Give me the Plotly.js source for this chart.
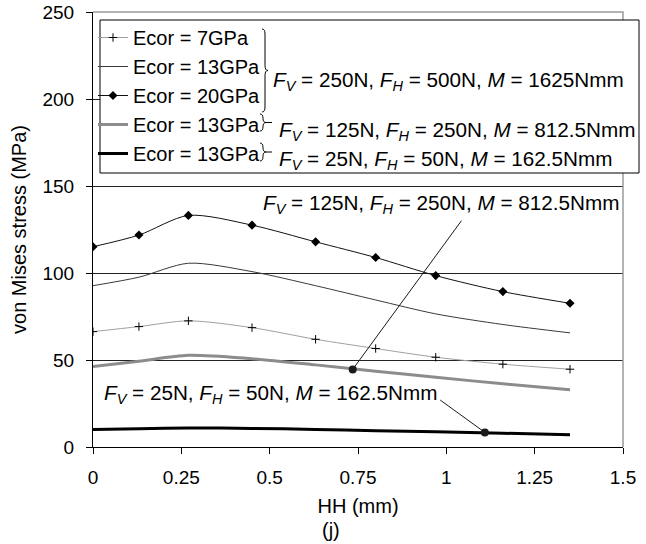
<!DOCTYPE html>
<html>
<head>
<meta charset="utf-8">
<script src="https://cdn.plot.ly/plotly-3.0.1.min.js"></script>
<style>
html,body{margin:0;padding:0;background:#fff;}
#chart{width:646px;height:544px;}
</style>
</head>
<body>
<div id="chart"></div>
<script>
// ---- data ----
const hh = [0, 0.13, 0.27, 0.45, 0.63, 0.80, 0.97, 1.16, 1.35];
const stress7 = [66.3, 69.2, 72.5, 68.6, 61.9, 56.6, 51.6, 47.6, 44.7];
const stress13 = [92.7, 97.6, 105.6, 100.8, 92.7, 84.5, 76.5, 70.4, 65.6];
const stress20 = [115.1, 121.8, 133.1, 127.5, 117.9, 108.9, 98.5, 89.3, 82.6];
const stress13Mid = [46.3, 49.3, 52.7, 50.7, 47.2, 43.6, 40.1, 36.3, 32.9];
const stress13Low = [10.0, 10.5, 10.9, 10.7, 10.1, 9.3, 8.7, 7.9, 7.0];
const seriesNames = ['Ecor = 7GPa', 'Ecor = 13GPa', 'Ecor = 20GPa', 'Ecor = 13GPa', 'Ecor = 13GPa'];
const loadTexts = [
  '<i>F</i><sub><i>V</i></sub> = 250N, <i>F</i><sub><i>H</i></sub> = 500N, <i>M</i> = 1625Nmm',
  '<i>F</i><sub><i>V</i></sub> = 125N, <i>F</i><sub><i>H</i></sub> = 250N, <i>M</i> = 812.5Nmm',
  '<i>F</i><sub><i>V</i></sub> = 25N, <i>F</i><sub><i>H</i></sub> = 50N, <i>M</i> = 162.5Nmm'
];
// callout points (on curves) and leader-line starts
const calloutX = [0.735, 1.109];
const calloutY = [44.6, 8.4];
const calloutAX = [1.048, 0.977];
const calloutAY = [131.5, 27.8];
const xTickVals = [0, 0.25, 0.5, 0.75, 1, 1.25, 1.5];
const xTickText = ['0', '0.25', '0.5', '0.75', '1', '1.25', '1.5'];
const yTickVals = [0, 50, 100, 150, 200, 250];
const yTickText = ['0', '50', '100', '150', '200', '250'];
const xTitle = 'HH (mm)';
const yTitle = 'von Mises stress (MPa)';
const panelLabel = '(j)';

// ---- geometry helpers (pixel -> paper) ----
const L = 93, T = 12, W = 530, H = 435;
const px = v => (v - L) / W;
const py = v => (T + H - v) / H;
function brace(x0, yT, yB, w, tipExtra) {
  const ym = (yT + yB) / 2, xm = x0 + w / 2, xt = x0 + w + tipExtra, r = Math.min(5, (yB - yT) / 4);
  const P = (a, b) => px(a).toFixed(5) + ',' + py(b).toFixed(5);
  return 'M' + P(x0, yT) + ' Q' + P(xm, yT) + ' ' + P(xm, yT + r) +
    ' L' + P(xm, ym - r) + ' Q' + P(xm, ym) + ' ' + P(x0 + w, ym) +
    ' L' + P(xt, ym) + ' M' + P(x0 + w, ym) +
    ' Q' + P(xm, ym) + ' ' + P(xm, ym + r) +
    ' L' + P(xm, yB - r) + ' Q' + P(xm, yB) + ' ' + P(x0, yB);
}

const FONT = 'Liberation Sans, Arial, sans-serif';
const TF = 20.7;

const traces = [
  {x: hh, y: stress7, name: seriesNames[0], mode: 'lines+markers',
   line: {color: '#a0a0a0', width: 1, shape: 'spline', smoothing: 0.8},
   marker: {symbol: 'cross-thin', size: 6, color: '#000', line: {width: 1, color: '#000'}}},
  {x: hh, y: stress13, name: seriesNames[1], mode: 'lines',
   line: {color: '#3a3a3a', width: 1, shape: 'spline', smoothing: 0.8}},
  {x: hh, y: stress20, name: seriesNames[2], mode: 'lines+markers',
   line: {color: '#111', width: 1, shape: 'spline', smoothing: 0.8},
   marker: {symbol: 'diamond', size: 7, color: '#000'}},
  {x: hh, y: stress13Mid, name: seriesNames[3], mode: 'lines',
   line: {color: '#8c8c8c', width: 3, shape: 'spline', smoothing: 0.8}},
  {x: hh, y: stress13Low, name: seriesNames[4], mode: 'lines',
   line: {color: '#000', width: 3, shape: 'spline', smoothing: 0.8}}
];

const shapes = [
  // plot frame top/right (gray)
  {type: 'path', xref: 'paper', yref: 'paper', path: 'M0,1 L1,1 L1,0', line: {color: '#9a9a9a', width: 1.5}, layer: 'above'},
  // legend box
  {type: 'rect', xref: 'paper', yref: 'paper', x0: px(100), x1: px(639), y0: py(173), y1: py(20),
   fillcolor: '#fff', line: {color: '#000', width: 1}, layer: 'above'},
  {type: 'path', xref: 'paper', yref: 'paper', path: brace(262, 29, 112, 6, 0), line: {color: '#000', width: 1}, layer: 'above'},
  {type: 'path', xref: 'paper', yref: 'paper', path: brace(260, 114, 131, 6, 6), line: {color: '#000', width: 1}, layer: 'above'},
  {type: 'path', xref: 'paper', yref: 'paper', path: brace(260, 143, 161, 6, 6), line: {color: '#000', width: 1}, layer: 'above'}
];

const annotations = [
  {xref: 'paper', yref: 'paper', x: px(271), y: py(81), xanchor: 'left', yanchor: 'middle', text: loadTexts[0], showarrow: false, font: {size: TF, color: '#000', family: FONT}},
  {xref: 'paper', yref: 'paper', x: px(277), y: py(131), xanchor: 'left', yanchor: 'middle', text: loadTexts[1], showarrow: false, font: {size: TF, color: '#000', family: FONT}},
  {xref: 'paper', yref: 'paper', x: px(277), y: py(160), xanchor: 'left', yanchor: 'middle', text: loadTexts[2], showarrow: false, font: {size: TF, color: '#000', family: FONT}},
  {xref: 'paper', yref: 'paper', x: px(261), y: py(204), xanchor: 'left', yanchor: 'middle', text: loadTexts[1], showarrow: false, font: {size: TF, color: '#000', family: FONT}},
  {xref: 'paper', yref: 'paper', x: px(102), y: py(394), xanchor: 'left', yanchor: 'middle', text: loadTexts[2], showarrow: false, font: {size: TF, color: '#000', family: FONT}},
  {xref: 'paper', yref: 'paper', x: px(331), y: py(530), xanchor: 'center', yanchor: 'middle', text: panelLabel, showarrow: false, font: {size: 20, color: '#000', family: FONT}}
];
for (let i = 0; i < calloutX.length; i++) {
  annotations.push({x: calloutX[i], y: calloutY[i], xref: 'x', yref: 'y', ax: calloutAX[i], ay: calloutAY[i], axref: 'x', ayref: 'y',
    text: ' ', showarrow: true, arrowhead: 6, arrowsize: 2, arrowwidth: 1, arrowcolor: '#1a1a1a', standoff: 0, font: {size: 2}});
}

const layout = {
  width: 646, height: 544,
  margin: {l: L, r: 646 - L - W, t: T, b: 544 - T - H},
  paper_bgcolor: '#fff', plot_bgcolor: '#fff',
  font: {family: FONT, size: 19, color: '#000'},
  showlegend: true,
  legend: {x: 0, y: py(18), xanchor: 'left', yanchor: 'top', bgcolor: 'rgba(0,0,0,0)', borderwidth: 0,
           font: {size: 20, family: FONT, color: '#000'}, itemwidth: 30, traceorder: 'normal'},
  xaxis: {range: [0, 1.5], tickmode: 'array', tickvals: xTickVals, ticktext: xTickText,
          ticks: 'outside', ticklen: 6, tickcolor: '#000', showline: true, linecolor: '#000', linewidth: 1,
          showgrid: false, zeroline: false, ticklabelstandoff: 7,
          tickfont: {size: 19}, title: {text: xTitle, font: {size: 20}, standoff: 12}},
  yaxis: {range: [0, 250], tickmode: 'array', tickvals: yTickVals, ticktext: yTickText,
          ticks: 'outside', ticklen: 6, tickcolor: '#000', showline: true, linecolor: '#000', linewidth: 1,
          showgrid: true, gridcolor: '#222', gridwidth: 1, zeroline: false, ticklabelstandoff: 8,
          tickfont: {size: 19}, title: {text: yTitle, font: {size: 20}, standoff: 10}},
  shapes: shapes,
  annotations: annotations
};

Plotly.newPlot('chart', traces, layout, {displayModeBar: false, staticPlot: true});
</script>
</body>
</html>
